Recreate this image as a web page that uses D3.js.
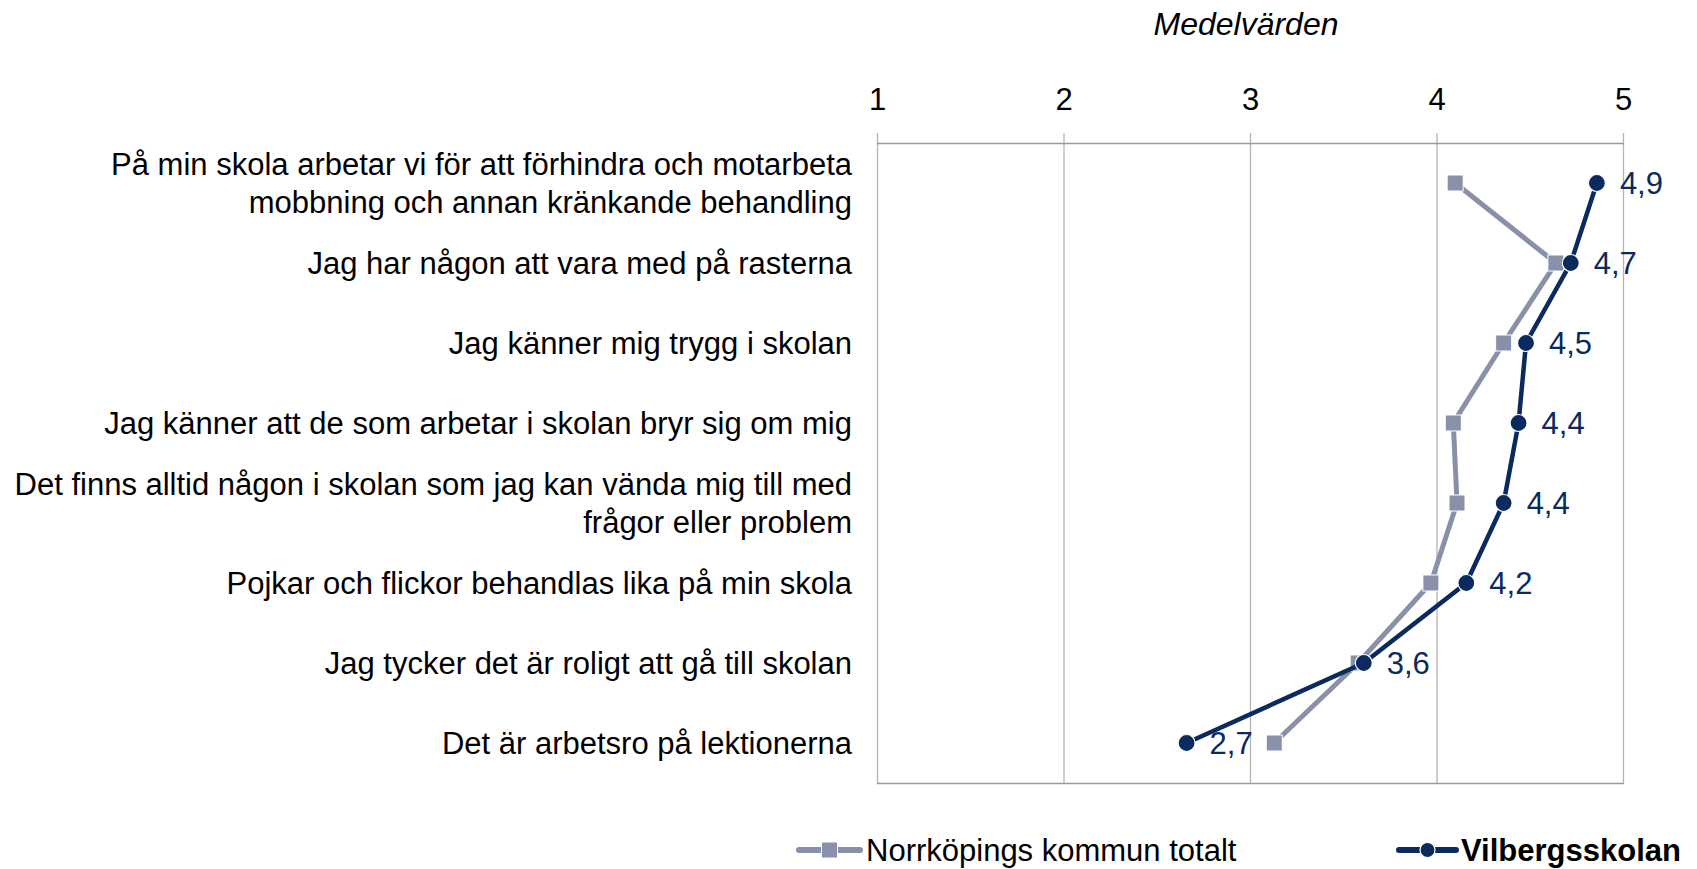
<!DOCTYPE html>
<html lang="sv">
<head>
<meta charset="utf-8">
<title>Medelvärden</title>
<script src="https://d3js.org/d3.v7.min.js"></script>
<style>
  body { margin: 0; background: #fff; }
  text { font-family: "Liberation Sans", Arial, sans-serif; }
</style>
</head>
<body>
<svg id="svg" width="1697" height="869"></svg>
<script>
// questions, top to bottom (two-line ones split)
var categories = [
  ["På min skola arbetar vi för att förhindra och motarbeta", "mobbning och annan kränkande behandling"],
  ["Jag har någon att vara med på rasterna"],
  ["Jag känner mig trygg i skolan"],
  ["Jag känner att de som arbetar i skolan bryr sig om mig"],
  ["Det finns alltid någon i skolan som jag kan vända mig till med", "frågor eller problem"],
  ["Pojkar och flickor behandlas lika på min skola"],
  ["Jag tycker det är roligt att gå till skolan"],
  ["Det är arbetsro på lektionerna"]
];
var kommun = [4.10, 4.64, 4.36, 4.09, 4.11, 3.97, 3.58, 3.13];
var skolan = [4.86, 4.72, 4.48, 4.44, 4.36, 4.16, 3.61, 2.66];
var tickValues = [1, 2, 3, 4, 5];
var seriesNames = ["Norrköpings kommun totalt", "Vilbergsskolan"];

var navy = "#0b2a5e", grey = "#8990aa", gridCol = "#b4b4b4";
var fs = 31;

var svg = d3.select("#svg");
// note: "top" is a reserved window prop, so plot edges get a prefix
var pLeft = 877, pRight = 1623, pTop = 143, pBottom = 783;

var x = d3.scaleLinear().domain([1, 5]).range([pLeft, pRight]);
var y = d3.scaleBand().domain(d3.range(categories.length)).range([pTop, pBottom]);
var yc = function(i) { return y(i) + y.bandwidth() / 2; };
var comma = function(v) { return d3.format(".1f")(v).replace(".", ","); };

// title
svg.append("text").attr("x", 1246).attr("y", 35)
  .attr("text-anchor", "middle").style("font-size", "32px").style("font-style", "italic")
  .text("Medelvärden");

// gridlines + frame
svg.append("g").selectAll("line").data(tickValues).enter().append("line")
  .attr("x1", function(d) { return x(d) + 0.5; }).attr("x2", function(d) { return x(d) + 0.5; })
  .attr("y1", pTop - 10).attr("y2", pBottom)
  .attr("stroke", gridCol).attr("stroke-width", 1.3);
svg.append("line").attr("x1", pLeft).attr("x2", pRight + 1).attr("y1", pTop + 0.5).attr("y2", pTop + 0.5)
  .attr("stroke", "#9a9a9a").attr("stroke-width", 1.3);
svg.append("line").attr("x1", pLeft).attr("x2", pRight + 1).attr("y1", pBottom + 0.5).attr("y2", pBottom + 0.5)
  .attr("stroke", "#9a9a9a").attr("stroke-width", 1.3);

// axis labels
var axis = d3.axisTop(x).tickValues(tickValues).tickFormat(d3.format("d")).tickSize(0).tickPadding(0);
var gAx = svg.append("g").attr("transform", "translate(0,110)").call(axis);
gAx.select(".domain").remove();
gAx.selectAll("text").attr("dy", 0).style("font-size", fs + "px")
  .style("font-family", "Liberation Sans, Arial, sans-serif").attr("fill", "#000");

// category labels
var cat = svg.append("g").selectAll("text").data(categories).enter().append("text")
  .attr("text-anchor", "end").style("font-size", fs + "px").attr("fill", "#000")
  .attr("transform", function(d, i) { return "translate(852," + yc(i) + ")"; });
cat.selectAll("tspan").data(function(d) { return d; }).enter().append("tspan")
  .attr("x", 0)
  .attr("y", function(d, j, nodes) { var n = nodes.length; return (j - (n - 1) / 2) * 38; })
  .attr("dy", "0.35em")
  .text(function(d) { return d; });

var line = d3.line().x(function(d) { return x(d); }).y(function(d, i) { return yc(i); });

// kommun series
svg.append("path").datum(kommun).attr("d", line)
  .attr("fill", "none").attr("stroke", grey).attr("stroke-width", 5);
svg.append("g").selectAll("rect").data(kommun).enter().append("rect")
  .attr("x", function(d) { return x(d) - 8; }).attr("y", function(d, i) { return yc(i) - 8; })
  .attr("width", 16).attr("height", 16)
  .attr("fill", grey).attr("stroke", "#fff").attr("stroke-width", 1);

// skolan series
svg.append("path").datum(skolan).attr("d", line)
  .attr("fill", "none").attr("stroke", navy).attr("stroke-width", 4.5);
svg.append("g").selectAll("circle").data(skolan).enter().append("circle")
  .attr("cx", function(d) { return x(d); }).attr("cy", function(d, i) { return yc(i); })
  .attr("r", 8.5).attr("fill", navy).attr("stroke", "#fff").attr("stroke-width", 1.2);
svg.append("g").selectAll("text").data(skolan).enter().append("text")
  .attr("x", function(d) { return x(d) + 23; }).attr("y", function(d, i) { return yc(i); })
  .attr("dy", "0.35em").style("font-size", fs + "px").attr("fill", navy)
  .text(comma);

// legend
var leg = svg.append("g");
var legItems = [
  { name: seriesNames[0], col: grey, x1: 799, x2: 860, bold: false, marker: "square", tx: 866 },
  { name: seriesNames[1], col: navy, x1: 1399, x2: 1456, bold: true, marker: "circle", tx: 1461 }
];
var ly = 850;
legItems.forEach(function(it) {
  leg.append("line").attr("x1", it.x1).attr("x2", it.x2).attr("y1", ly).attr("y2", ly)
    .attr("stroke", it.col).attr("stroke-width", 6).attr("stroke-linecap", "round");
  var mx = (it.x1 + it.x2) / 2;
  if (it.marker === "square") {
    leg.append("rect").attr("x", mx - 8).attr("y", ly - 8).attr("width", 16).attr("height", 16)
      .attr("fill", it.col).attr("stroke", "#fff").attr("stroke-width", 1);
  } else {
    leg.append("circle").attr("cx", mx).attr("cy", ly).attr("r", 7.5)
      .attr("fill", it.col).attr("stroke", "#fff").attr("stroke-width", 1.2);
  }
  leg.append("text").attr("x", it.tx).attr("y", ly).attr("dy", "0.35em")
    .style("font-size", fs + "px").style("font-weight", it.bold ? "bold" : "normal")
    .attr("fill", "#000").text(it.name);
});
</script>
</body>
</html>
